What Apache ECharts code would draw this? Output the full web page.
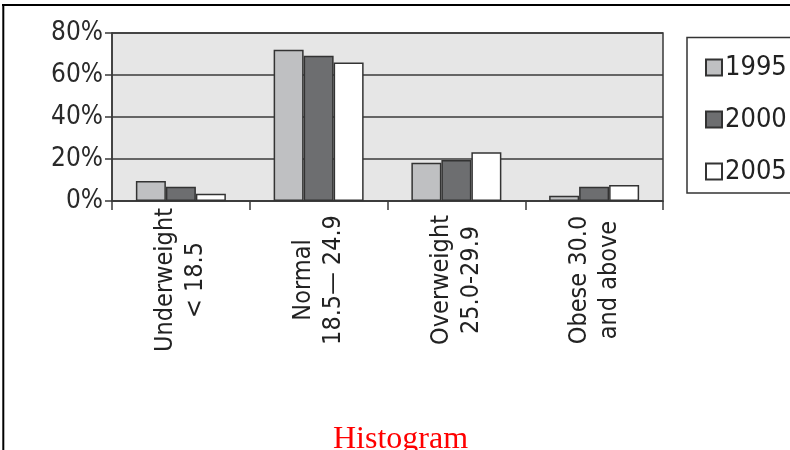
<!DOCTYPE html>
<html>
<head>
<meta charset="utf-8">
<script src="https://cdn.jsdelivr.net/npm/echarts@6/dist/echarts.min.js"></script>
<style>
  html, body { margin: 0; padding: 0; background: #fff; }
  #chart { width: 790px; height: 450px; }
</style>
</head>
<body>
<div id="chart"></div>
<script>
// BMI classes on the x axis
var categories = [
  'Underweight\n< 18.5',
  'Normal\n18.5\u2014 24.9',
  'Overweight\n25.0-29.9',
  'Obese 30.0\nand above'
];
// share of population (%) per year
var years = ['1995', '2000', '2005'];
var values1995 = [9.5, 72, 18.2, 2.5];
var values2000 = [6.8, 69.2, 19.5, 6.8];
var values2005 = [3.5, 66, 23.2, 7.6];
var yTicks = [0, 20, 40, 60, 80];

var seriesData = [values1995, values2000, values2005];
var barColors = ['#bfc0c2', '#6d6e70', '#ffffff'];
var narrow = '"Liberation Sans Narrow", "DejaVu Sans Condensed", sans-serif';

var chart = echarts.init(document.getElementById('chart'), null, { renderer: 'canvas' });

var option = {
  backgroundColor: '#ffffff',
  animation: false,
  title: {
    text: 'Histogram',
    left: 328,
    top: 419,
    textStyle: {
      color: '#ff0000',
      fontFamily: '"Liberation Serif", "Times New Roman", serif',
      fontWeight: 'normal',
      fontSize: 32
    }
  },
  legend: {
    data: years,
    orient: 'vertical',
    left: 700,
    top: 49,
    itemWidth: 16,
    itemHeight: 16,
    itemGap: 25,
    icon: 'rect',
    textStyle: {
      fontFamily: narrow,
      fontSize: 27,
      lineHeight: 24,
      color: '#222',
      padding: [0, 0, 0, -2]
    }
  },
  grid: {
    left: 112,
    right: 127,
    top: 33,
    bottom: 249,
    show: true,
    backgroundColor: '#e6e6e6',
    borderColor: '#3a3a3a',
    borderWidth: 1.5
  },
  xAxis: {
    type: 'category',
    data: categories,
    boundaryGap: true,
    axisLine: { show: true, lineStyle: { color: '#3a3a3a', width: 1.5 } },
    axisTick: { show: true, interval: 0, length: 9, lineStyle: { color: '#3a3a3a', width: 1.5 } },
    axisLabel: {
      interval: 0,
      rotate: 90,
      align: 'center',
      verticalAlign: 'middle',
      margin: 79,
      fontFamily: narrow,
      fontSize: 25,
      lineHeight: 30,
      color: '#222'
    }
  },
  yAxis: {
    type: 'value',
    min: yTicks[0],
    max: yTicks[yTicks.length - 1],
    interval: yTicks[1] - yTicks[0],
    axisLine: { show: true, lineStyle: { color: '#3a3a3a', width: 1.5 } },
    axisTick: { show: true, length: 7, inside: false, lineStyle: { color: '#3a3a3a', width: 1.5 } },
    axisLabel: {
      formatter: '{value}%',
      margin: 9,
      fontFamily: narrow,
      fontSize: 26,
      color: '#2a2a2a'
    },
    splitLine: { show: true, lineStyle: { color: '#3a3a3a', width: 1.5 } }
  },
  series: years.map(function (y, i) {
    return {
      name: y,
      type: 'bar',
      data: seriesData[i],
      barWidth: 30,
      barGap: '0%',
      itemStyle: {
        color: barColors[i],
        borderColor: '#333',
        borderWidth: 1.5
      }
    };
  }),
  graphic: [
    // page frame edges
    { type: 'line', shape: { x1: 2, y1: 5, x2: 790, y2: 5 }, style: { stroke: '#000', lineWidth: 2 }, z: 100 },
    { type: 'line', shape: { x1: 3.3, y1: 4, x2: 3.3, y2: 450 }, style: { stroke: '#000', lineWidth: 2 }, z: 100 },
    // legend frame
    { type: 'rect', shape: { x: 687, y: 37.5, width: 130, height: 155.5 }, style: { fill: 'none', stroke: '#333', lineWidth: 1.5 }, z: 100 }
  ]
};

chart.setOption(option);
</script>
</body>
</html>
